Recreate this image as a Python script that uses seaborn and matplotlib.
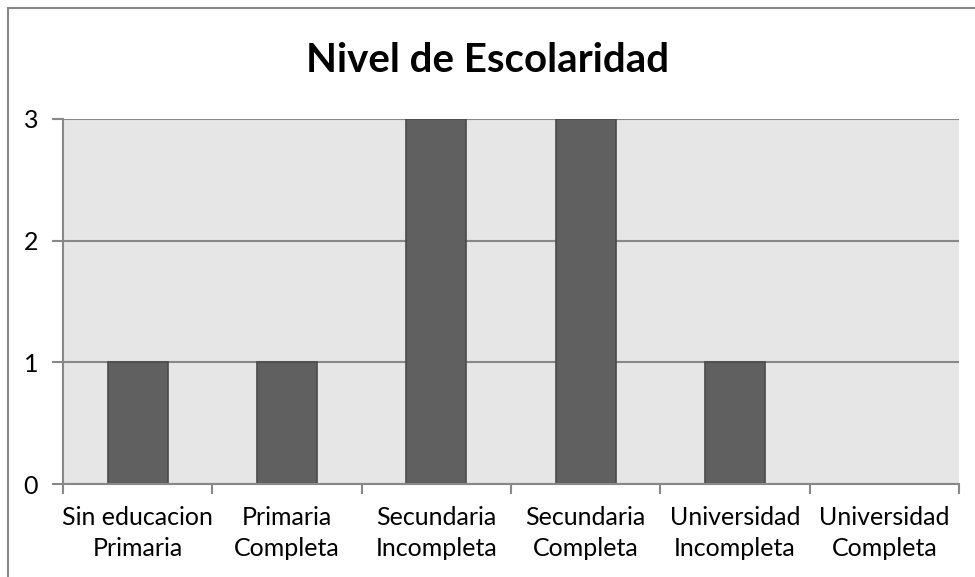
import matplotlib
matplotlib.use("Agg")
import matplotlib.pyplot as plt
import seaborn as sns
import pandas as pd
from matplotlib.patches import Rectangle

categorias = ["Sin educacion\nPrimaria", "Primaria\nCompleta", "Secundaria\nIncompleta",
              "Secundaria\nCompleta", "Universidad\nIncompleta", "Universidad\nCompleta"]
valores = [1, 1, 3, 3, 1, 0]
y_ticks = [0, 1, 2, 3]

df = pd.DataFrame({"Nivel": categorias, "Cantidad": valores})

sns.set_style("white")
plt.rcParams["font.family"] = ["Lato", "DejaVu Sans"]
plt.rcParams["text.color"] = "black"
plt.rcParams["xtick.labelcolor"] = "black"
plt.rcParams["ytick.labelcolor"] = "black"

fig = plt.figure(figsize=(9.75, 5.77), dpi=100)
ax = fig.add_axes([63 / 975, 93 / 577, 896 / 975, 365 / 577])
ax.set_facecolor("#e6e6e6")

sns.barplot(data=df, x="Nivel", y="Cantidad", color="#606060", width=0.4,
            edgecolor="#4a4a4a", linewidth=1.2, saturation=1, ax=ax, zorder=3)

ax.set_xlim(-0.5, len(categorias) - 0.5)
ax.set_ylim(0, 3)
ax.set_yticks(y_ticks)
ax.set_yticklabels([str(t) for t in y_ticks], fontsize=18)
ax.set_xticks(range(len(categorias)))
ax.set_xticklabels(categorias, fontsize=18, linespacing=1.4)
ax.set_xticks([i - 0.5 for i in range(len(categorias) + 1)], minor=True)
ax.tick_params(axis="x", which="major", bottom=False, length=0, pad=16)
ax.tick_params(axis="x", which="minor", bottom=True, length=7, width=1.5,
               color="#888888", direction="out")
ax.tick_params(axis="y", which="major", left=True, length=8, width=1.5,
               color="#888888", pad=10, direction="out")
ax.set_xlabel("")
ax.set_ylabel("")

ax.grid(axis="y", color="#888888", linewidth=1.5, zorder=0)
ax.set_axisbelow(True)
for s in ["top", "right"]:
    ax.spines[s].set_visible(False)
for s in ["left", "bottom"]:
    ax.spines[s].set_color("#888888")
    ax.spines[s].set_linewidth(1.5)
    ax.spines[s].set_zorder(5)

fig.text(0.5, 1 - 61 / 577, "Nivel de Escolaridad", ha="center", va="center",
         fontsize=29, fontweight="bold", color="black")

# borde del grafico
fig.patches.append(Rectangle((8 / 975, -0.05), 1.0, 1.05 - 8 / 577, transform=fig.transFigure,
                             fill=False, edgecolor="#888888", linewidth=1.5))

fig.savefig("out.png", dpi=100)
